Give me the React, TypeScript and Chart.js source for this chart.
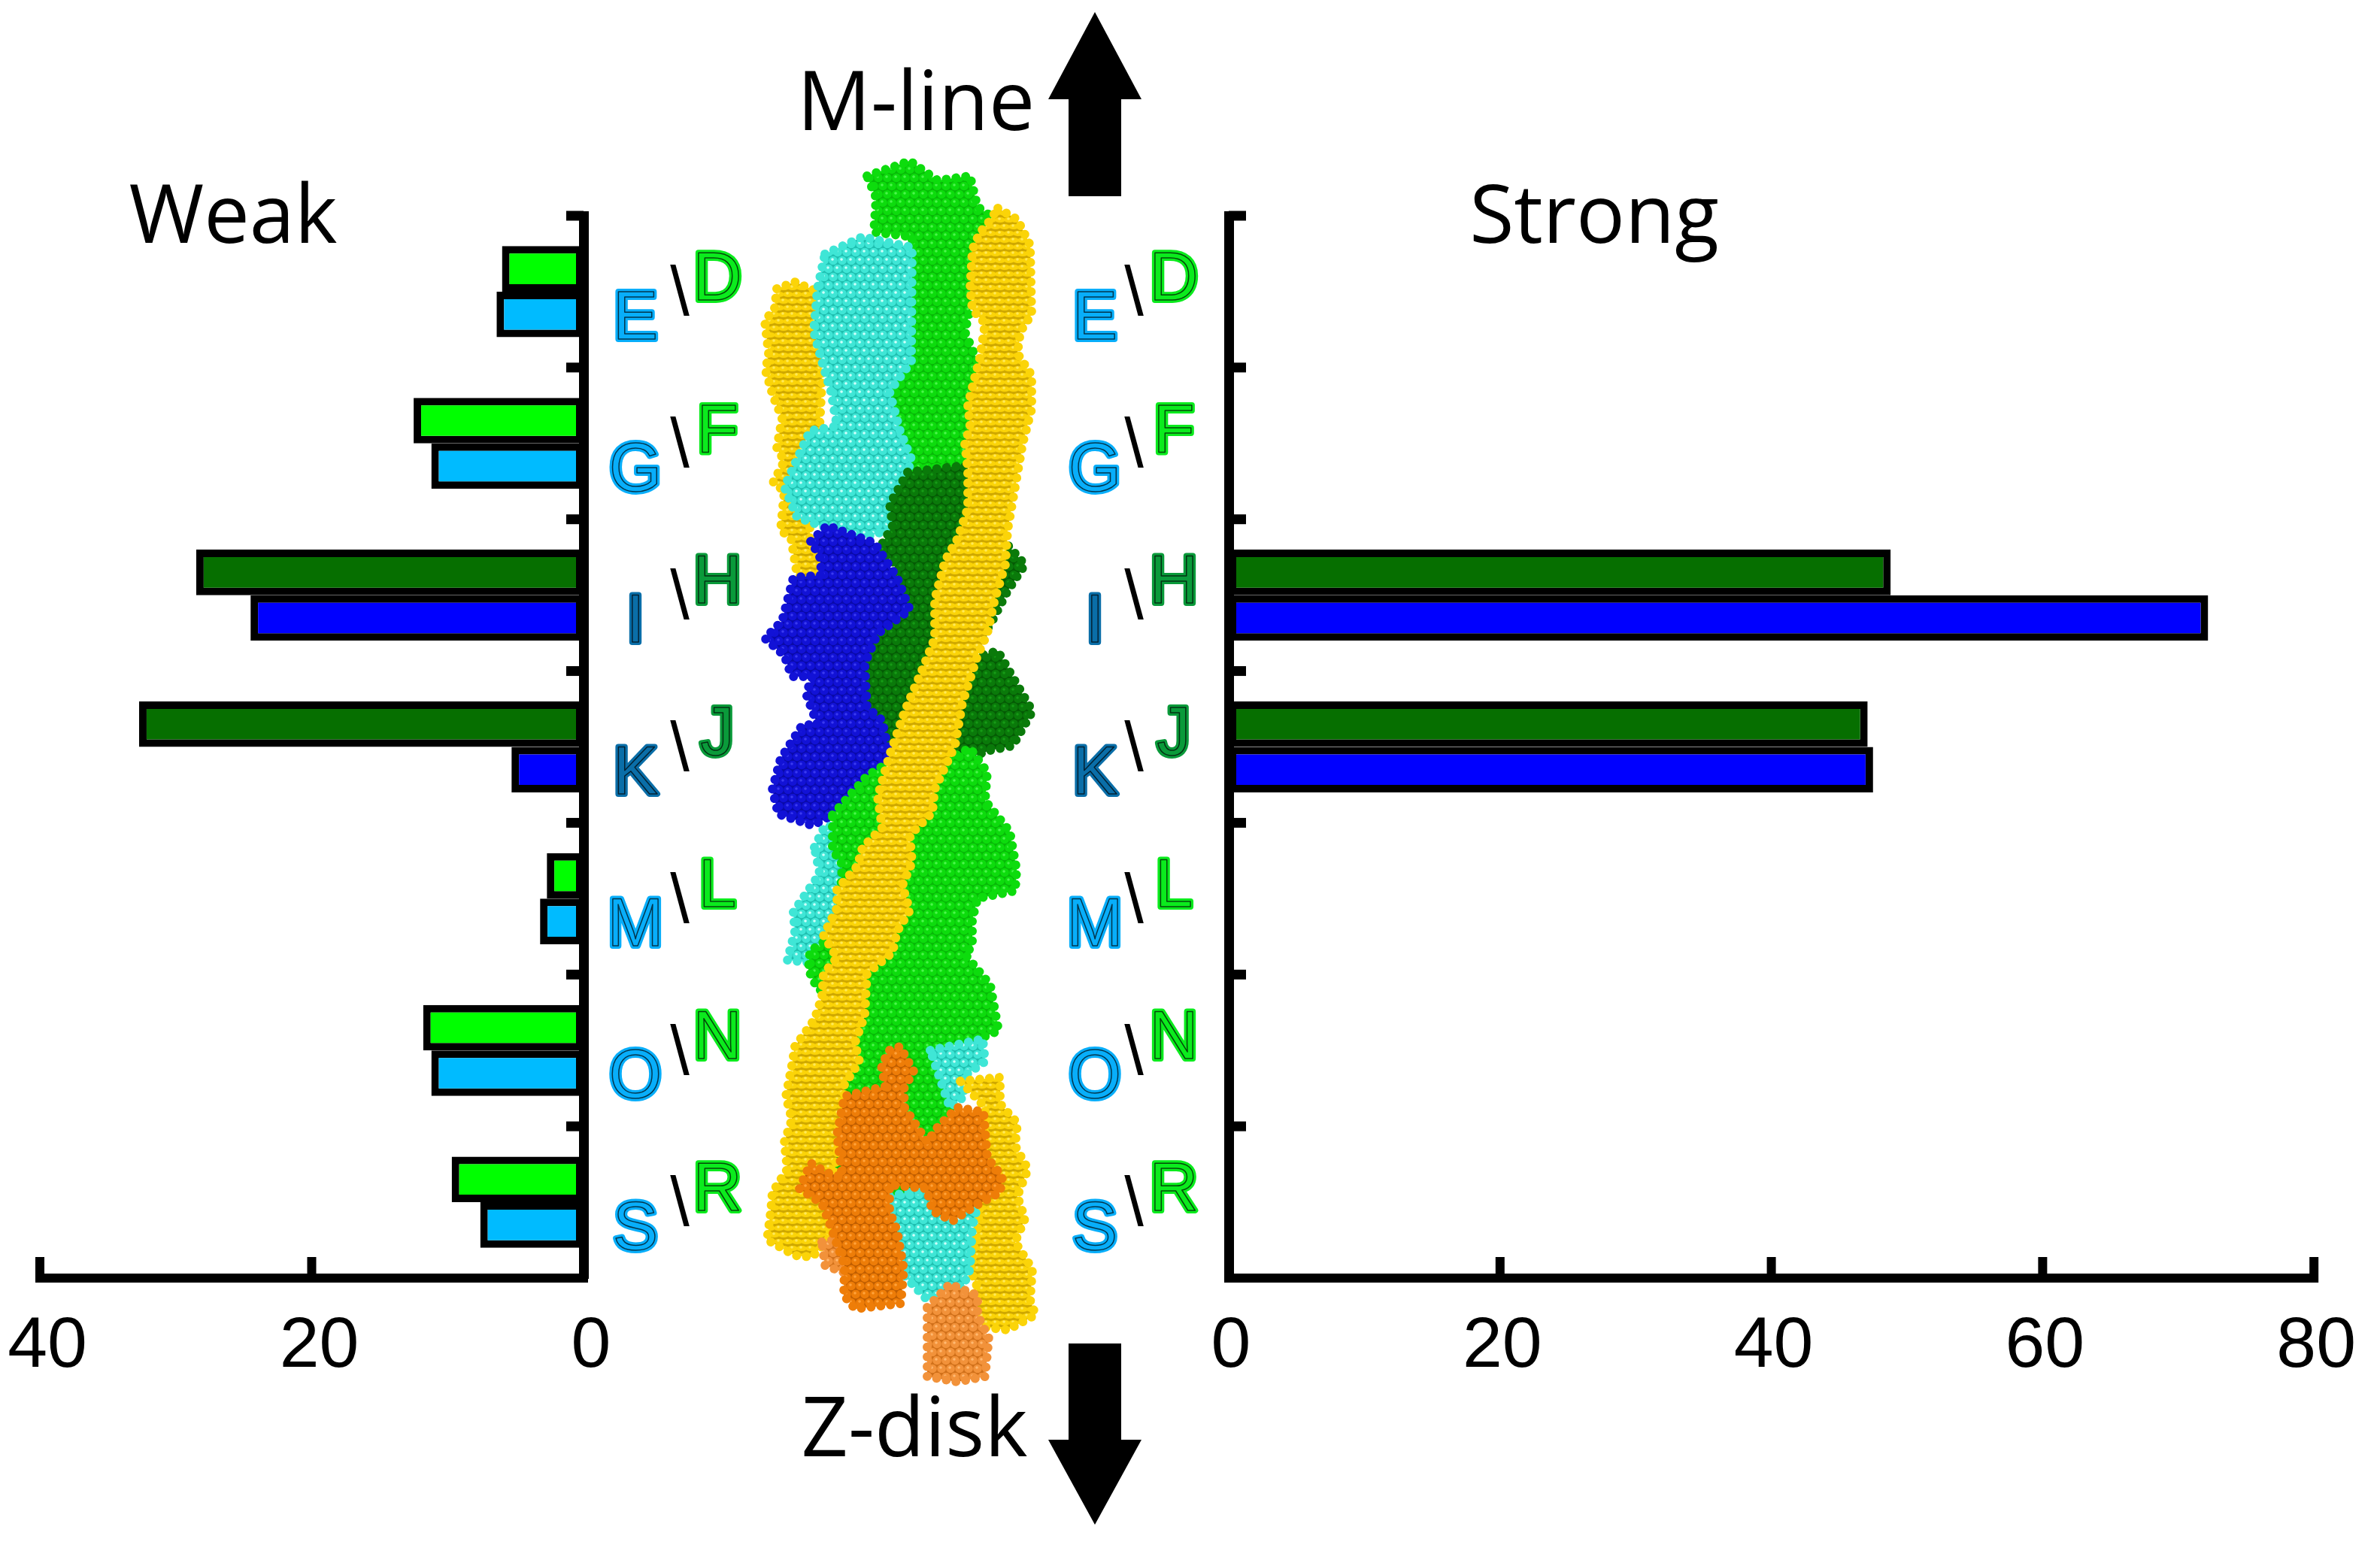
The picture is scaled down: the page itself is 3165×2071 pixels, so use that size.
import React, { useEffect, useRef } from 'react';
import { Chart, registerables } from 'chart.js';

Chart.register(...registerables);

// bars
const pairs = ['E\\D', 'G\\F', 'I\\H', 'K\\J', 'M\\L', 'O\\N', 'S\\R'];
const upperLetters = ['D', 'F', 'H', 'J', 'L', 'N', 'R'];
const lowerLetters = ['E', 'G', 'I', 'K', 'M', 'O', 'S'];
const weakUpper = [6.0, 12.5, 28.5, 32.7, 2.7, 11.8, 9.7];
const weakLower = [6.4, 11.2, 24.5, 5.3, 3.2, 11.2, 7.6];
const strongUpper = [0, 0, 48.8, 47.1, 0, 0, 0];
const strongLower = [0, 0, 72.2, 47.5, 0, 0, 0];
const weakTicks = [0, 20, 40];
const strongTicks = [0, 20, 40, 60, 80];

const upperFill = ['#00FF00', '#00FF00', '#066F00', '#066F00', '#00FF00', '#00FF00', '#00FF00'];
const lowerFill = ['#00BBFF', '#00BBFF', '#0000FF', '#0000FF', '#00BBFF', '#00BBFF', '#00BBFF'];
const upperText = ['#0BEB1D', '#0BEB1D', '#0A9A3A', '#0A9A3A', '#0BEB1D', '#0BEB1D', '#0BEB1D'];
const lowerText = ['#08AEFA', '#08AEFA', '#0A6EA8', '#0A6EA8', '#08AEFA', '#08AEFA', '#08AEFA'];

// outlines of the protein chains, in picture pixels
const yellowLeft = [[1033,384],[1057,375],[1090,389],[1093,510],[1090,567],[1077,602],[1077,717],[1103,774],[1060,765],[1052,717],[1038,705],[1043,653],[1028,642],[1043,613],[1033,596],[1040,556],[1028,527],[1018,493],[1022,470],[1017,427],[1030,410]];
const greenTop = [[1153,234],[1210,214],[1247,240],[1290,234],[1300,275],[1320,289],[1297,332],[1293,401],[1283,441],[1300,481],[1287,544],[1293,590],[1280,619],[1213,625],[1193,590],[1183,527],[1210,493],[1213,315],[1162,309],[1165,263]];
const cyanTop = [[1097,338],[1147,315],[1213,329],[1212,481],[1183,521],[1197,573],[1213,613],[1187,665],[1183,705],[1140,717],[1107,705],[1060,688],[1043,648],[1077,573],[1113,567],[1105,521],[1093,481],[1082,441],[1087,384]];
const darkGreen = [[1207,628],[1283,619],[1287,699],[1270,734],[1333,717],[1363,751],[1340,786],[1317,831],[1283,877],[1327,866],[1373,946],[1347,992],[1317,998],[1267,1015],[1213,1004],[1177,981],[1150,935],[1150,883],[1167,843],[1207,808],[1187,745],[1167,734],[1187,699],[1183,671]];
const blueChain = [[1078,720],[1100,699],[1163,722],[1193,768],[1210,811],[1167,843],[1150,883],[1153,941],[1173,958],[1183,1004],[1137,1061],[1097,1090],[1080,1098],[1035,1083],[1027,1050],[1038,1009],[1067,964],[1087,964],[1072,923],[1080,900],[1053,900],[1043,872],[1017,849],[1040,826],[1055,768],[1093,765],[1090,740]];
const cyanMidLeft = [[1083,1127],[1097,1098],[1120,1101],[1140,1147],[1127,1254],[1073,1280],[1047,1277],[1057,1239],[1055,1213],[1090,1162]];
const greenLower = [[1107,1084],[1153,1032],[1180,1015],[1263,1009],[1290,995],[1313,1027],[1310,1065],[1343,1106],[1352,1157],[1350,1185],[1300,1195],[1293,1223],[1293,1259],[1283,1269],[1317,1310],[1328,1371],[1297,1384],[1263,1397],[1270,1417],[1263,1479],[1233,1515],[1220,1600],[1100,1590],[1098,1540],[1100,1450],[1130,1410],[1140,1340],[1087,1315],[1075,1290],[1077,1265],[1115,1240],[1120,1150],[1107,1130]];
const cyanMidRight = [[1237,1397],[1307,1382],[1310,1412],[1280,1433],[1283,1458],[1263,1473]];
const yellowRight = [[1277,1438],[1330,1433],[1330,1468],[1353,1494],[1350,1524],[1367,1555],[1353,1591],[1363,1621],[1350,1652],[1373,1688],[1370,1729],[1377,1749],[1340,1769],[1297,1764],[1283,1739],[1300,1713],[1290,1688],[1300,1637],[1307,1560],[1310,1473]];
const cyanBottom = [[1183,1591],[1223,1583],[1300,1604],[1293,1632],[1290,1688],[1280,1713],[1233,1729],[1213,1708],[1200,1693],[1190,1637]];
const yellowMain = [[1327,277],[1353,292],[1370,326],[1372,418],[1357,441],[1353,470],[1372,499],[1372,544],[1360,590],[1350,648],[1340,705],[1337,751],[1323,797],[1313,843],[1300,872],[1280,935],[1270,992],[1243,1050],[1240,1081],[1210,1111],[1213,1147],[1200,1178],[1210,1211],[1193,1239],[1187,1267],[1153,1295],[1150,1351],[1137,1387],[1143,1412],[1123,1443],[1123,1489],[1113,1535],[1107,1581],[1103,1647],[1080,1672],[1057,1670],[1020,1649],[1025,1611],[1027,1586],[1047,1555],[1043,1519],[1053,1489],[1045,1458],[1053,1417],[1057,1392],[1083,1356],[1093,1326],[1095,1295],[1113,1274],[1095,1244],[1113,1208],[1113,1183],[1140,1152],[1147,1127],[1173,1101],[1167,1060],[1183,1004],[1203,946],[1227,889],[1243,849],[1243,797],[1257,745],[1273,717],[1287,676],[1287,625],[1283,590],[1290,567],[1287,539],[1297,499],[1303,476],[1310,430],[1293,412],[1290,384],[1293,332],[1303,309],[1313,298]];
const orangeLightLeft = [[1093,1652],[1123,1647],[1123,1693],[1097,1683]];
const orangeLightBottom = [[1233,1739],[1263,1708],[1300,1723],[1300,1749],[1315,1780],[1310,1831],[1273,1838],[1233,1831],[1233,1780]];
const orangeChain = [[1183,1397],[1197,1392],[1215,1425],[1202,1448],[1203,1473],[1222,1502],[1233,1519],[1247,1499],[1273,1473],[1308,1479],[1313,1540],[1333,1565],[1330,1586],[1297,1604],[1267,1624],[1240,1611],[1232,1581],[1183,1576],[1183,1611],[1193,1637],[1202,1688],[1198,1734],[1137,1741],[1122,1723],[1123,1683],[1103,1627],[1093,1601],[1063,1581],[1078,1547],[1100,1560],[1120,1565],[1113,1509],[1123,1458],[1177,1445],[1172,1417]];

const sansFont = '"Liberation Sans", Arial, sans-serif';
const titleFont = '"Open Sans", sans-serif';

const GREEN = ['#0DDC0D', '#08B808', '#4CF44C'];
const CYAN = ['#3FE6D6', '#1FBFB0', '#D0FFFA'];
const YELLOW = ['#FBD408', '#CFA800', '#FFE95A'];
const DARK = ['#0A7A0A', '#055A05', '#169A16'];
const BLUE = ['#1212D6', '#0A0AA8', '#3A3AF0'];
const ORANGE = ['#EE7D08', '#C05E00', '#FFA23A'];
const ORANGE_LIGHT = ['#F2923A', '#D0701A', '#FFB870'];

const chains: [number[][], string[]][] = [
  [yellowLeft, YELLOW],
  [greenTop, GREEN],
  [cyanTop, CYAN],
  [darkGreen, DARK],
  [blueChain, BLUE],
  [cyanMidLeft, CYAN],
  [greenLower, GREEN],
  [cyanMidRight, CYAN],
  [yellowRight, YELLOW],
  [cyanBottom, CYAN],
  [yellowMain, YELLOW],
  [orangeLightLeft, ORANGE_LIGHT],
  [orangeLightBottom, ORANGE_LIGHT],
  [orangeChain, ORANGE],
];

// small tile of beads, used as the fill of each chain; yellow ones are flat
function beadPattern(ctx: CanvasRenderingContext2D, colors: string[]) {
  const flat = colors === YELLOW;
  const tile = document.createElement('canvas');
  tile.width = 24;
  tile.height = flat ? 18 : 22;
  const h = tile.height;
  const t = tile.getContext('2d')!;
  t.fillStyle = colors[1];
  t.fillRect(0, 0, 24, h);
  const spots = [[6, h / 4], [18, h / 4], [0, (3 * h) / 4], [12, (3 * h) / 4], [24, (3 * h) / 4]];
  spots.forEach(([x, y]) => {
    t.fillStyle = colors[0];
    t.beginPath();
    t.ellipse(x, y, flat ? 7 : 5.8, flat ? 3.6 : 5.8, 0, 0, Math.PI * 2);
    t.fill();
    t.fillStyle = colors[2];
    t.beginPath();
    t.arc(x - 1, y - 1.5, 1.8, 0, Math.PI * 2);
    t.fill();
  });
  return ctx.createPattern(tile, 'repeat');
}

const chainFill = {
  id: 'chainFill',
  beforeDatasetDraw(chart: any, args: any) {
    const { ctx } = chart;
    const pts = args.meta.data;
    const pattern = chart.data.datasets[args.index].chainPattern;
    ctx.save();
    ctx.beginPath();
    pts.forEach((p: any, i: number) => (i ? ctx.lineTo(p.x, p.y) : ctx.moveTo(p.x, p.y)));
    ctx.closePath();
    ctx.fillStyle = pattern;
    ctx.fill();
    ctx.restore();
  },
};

function arrow(ctx: CanvasRenderingContext2D, x: number, tip: number, neck: number, end: number) {
  ctx.fillStyle = '#000';
  ctx.beginPath();
  ctx.moveTo(x, tip);
  ctx.lineTo(x + 62, neck);
  ctx.lineTo(x + 35, neck);
  ctx.lineTo(x + 35, end);
  ctx.lineTo(x - 35, end);
  ctx.lineTo(x - 35, neck);
  ctx.lineTo(x - 62, neck);
  ctx.closePath();
  ctx.fill();
}

// arrows and their captions around the protein
const directionMarks = {
  id: 'directionMarks',
  afterDraw(chart: any) {
    const { ctx, scales } = chart;
    const cx = scales.x.getPixelForValue(1456);
    arrow(ctx, cx, scales.y.getPixelForValue(16), scales.y.getPixelForValue(132), scales.y.getPixelForValue(261));
    arrow(ctx, cx, scales.y.getPixelForValue(2028), scales.y.getPixelForValue(1915), scales.y.getPixelForValue(1787));
    ctx.save();
    ctx.fillStyle = '#000';
    ctx.font = `109px ${titleFont}`;
    ctx.textAlign = 'center';
    ctx.textBaseline = 'middle';
    ctx.fillText('M-line', scales.x.getPixelForValue(1218), scales.y.getPixelForValue(142));
    ctx.fillText('Z-disk', scales.x.getPixelForValue(1216), scales.y.getPixelForValue(1906));
    ctx.restore();
  },
};

function outlinedLetter(ctx: CanvasRenderingContext2D, text: string, x: number, y: number, color: string) {
  ctx.lineJoin = 'round';
  ctx.strokeStyle = color;
  ctx.lineWidth = 8;
  ctx.strokeText(text, x, y);
  ctx.fillStyle = color;
  ctx.fillText(text, x, y);
  ctx.strokeStyle = 'rgba(0,0,0,0.7)';
  ctx.lineWidth = 1.5;
  ctx.strokeText(text, x, y);
}

// inward tick marks, chain letters and the panel title
const panelDecor = {
  id: 'panelDecor',
  afterDraw(chart: any, _args: any, opts: any) {
    const { ctx, scales, chartArea } = chart;
    const { x, y } = scales;
    const axisX = opts.side > 0 ? chartArea.left : chartArea.right;
    ctx.save();
    ctx.fillStyle = '#000';
    for (let i = 0; i <= pairs.length - 1; i++) {
      const py = y.getPixelForValue(i - 0.5);
      const tickEnd = axisX + opts.side * 23;
      ctx.fillRect(Math.min(axisX, tickEnd), py - 6.5, 23, 13);
    }
    x.ticks.forEach((t: any) => {
      const px = x.getPixelForValue(t.value);
      ctx.fillRect(px - 6, chartArea.bottom - 28, 12, 34);
    });

    ctx.textAlign = 'center';
    ctx.textBaseline = 'middle';
    pairs.forEach((_p, i) => {
      const cy = y.getPixelForValue(i);
      ctx.font = `90px ${sansFont}`;
      outlinedLetter(ctx, lowerLetters[i], axisX + opts.lowerOffset, cy + 38, lowerText[i]);
      outlinedLetter(ctx, upperLetters[i], axisX + opts.upperOffset, cy - 14, upperText[i]);
      ctx.font = `92px ${sansFont}`;
      ctx.fillStyle = '#000';
      ctx.fillText('\\', axisX + opts.slashOffset, cy + 6);
    });

    ctx.font = `108px ${titleFont}`;
    ctx.fillText(opts.title, opts.titleX, 292);
    ctx.restore();
  },
};

function barConfig(upper: number[], lower: number[], ticks: number[], max: number, side: number, padding: any, decor: any) {
  return {
    type: 'bar',
    data: {
      labels: pairs,
      datasets: [
        { label: 'Upper', data: upper, backgroundColor: upperFill, borderColor: '#000', borderWidth: 10, borderSkipped: false },
        { label: 'Lower', data: lower, backgroundColor: lowerFill, borderColor: '#000', borderWidth: 10, borderSkipped: false },
      ],
    },
    options: {
      indexAxis: 'y',
      responsive: false,
      animation: false,
      layout: { padding },
      datasets: { bar: { barPercentage: 1, categoryPercentage: 0.6 } },
      scales: {
        x: {
          min: 0,
          max,
          reverse: side < 0,
          afterFit: (s: any) => { s.height = 371; },
          afterBuildTicks: (s: any) => { s.ticks = ticks.map((value) => ({ value })); },
          grid: { display: false, drawTicks: false },
          border: { display: true, color: '#000', width: 12 },
          ticks: {
            color: '#000',
            padding: 35,
            labelOffset: side < 0 ? 10 : 3,
            maxRotation: 0,
            autoSkip: false,
            font: { family: sansFont, size: 95 },
          },
        },
        y: {
          position: side < 0 ? 'right' : 'left',
          grid: { display: false, drawTicks: false },
          border: { display: true, color: '#000', width: 13 },
          ticks: { display: false },
        },
      },
      plugins: { legend: { display: false }, tooltip: { enabled: false }, panelDecor: decor },
    },
    plugins: [panelDecor],
  };
}

function proteinConfig(ctx: CanvasRenderingContext2D) {
  return {
    type: 'scatter',
    data: {
      datasets: chains.map(([outline, colors], i) => ({
        data: [...outline, outline[0]].map(([x, y]) => ({ x, y })),
        showLine: true,
        fill: false,
        pointRadius: 0,
        borderColor: colors[0],
        borderWidth: 12,
        borderCapStyle: 'round',
        borderDash: [0.01, 13],
        order: chains.length - i,
        chainPattern: beadPattern(ctx, colors),
      })),
    },
    options: {
      responsive: false,
      animation: false,
      layout: { padding: 0 },
      scales: {
        x: { type: 'linear', display: false, min: 1000, max: 1540 },
        y: { type: 'linear', display: false, min: 0, max: 2071, reverse: true },
      },
      plugins: { legend: { display: false }, tooltip: { enabled: false } },
    },
    plugins: [chainFill, directionMarks],
  };
}

function ChartCanvas({ left, width, build }: { left: number; width: number; build: (ctx: CanvasRenderingContext2D) => any }) {
  const ref = useRef<HTMLCanvasElement>(null);
  useEffect(() => {
    const ctx = ref.current!.getContext('2d')!;
    const chart = new Chart(ctx, build(ctx));
    return () => chart.destroy();
  }, []);
  return <canvas ref={ref} width={width} height={2071} style={{ position: 'absolute', left, top: 0, width, height: 2071 }} />;
}

export default function App() {
  return (
    <div style={{ position: 'absolute', left: 0, top: 0, width: 3165, height: 2071, background: '#fff', overflow: 'hidden' }}>
      <ChartCanvas
        left={0}
        width={1050}
        build={() => barConfig(weakUpper, weakLower, weakTicks, 40, -1, { left: 53, right: 274, top: 287, bottom: 0 }, {
          side: -1, lowerOffset: 69, upperOffset: 178, slashOffset: 128, title: 'Weak', titleX: 310,
        })}
      />
      <ChartCanvas left={1000} width={540} build={proteinConfig} />
      <ChartCanvas
        left={1380}
        width={1785}
        build={() => barConfig(strongUpper, strongLower, strongTicks, 80, 1, { left: 254, right: 81, top: 287, bottom: 0 }, {
          side: 1, lowerOffset: -178, upperOffset: -73, slashOffset: -126, title: 'Strong', titleX: 740,
        })}
      />
    </div>
  );
}
